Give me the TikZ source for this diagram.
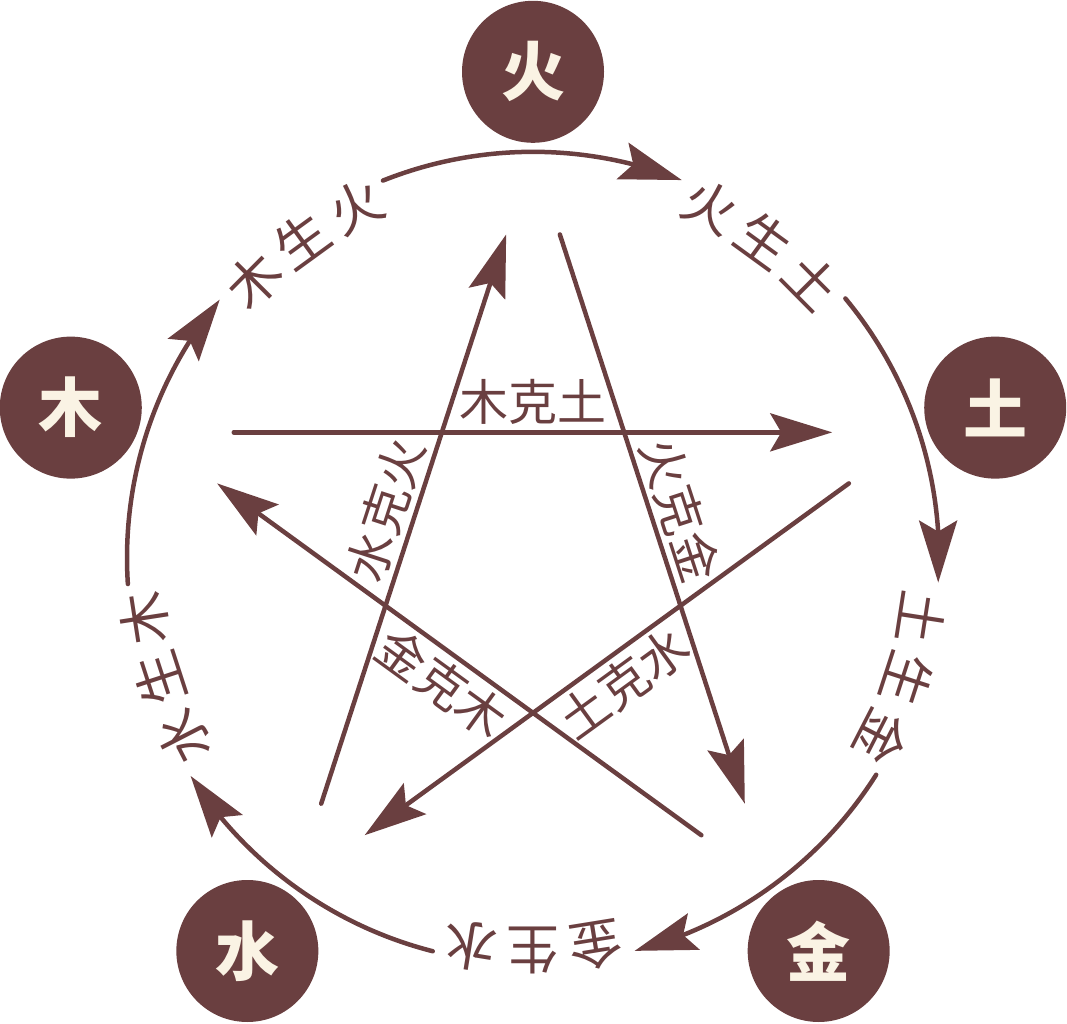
\documentclass[tikz,border=0pt]{standalone}
\usepackage{fontspec}
\newfontfamily\cjk{Noto Sans CJK SC}
\usetikzlibrary{arrows.meta,bending,calc}
\definecolor{wx}{RGB}{106,63,64}
\definecolor{cream}{RGB}{250,243,228}
\begin{document}
\begin{tikzpicture}[x=1pt,y=1pt,
  elem/.style={circle,fill=wx,minimum size=142pt,inner sep=0pt,text=cream,font=\cjk\bfseries\fontsize{64}{64}\selectfont},
  lbl/.style={text=wx,inner sep=0pt,font=\cjk\fontsize{49}{49}\selectfont},
  arclbl/.style={text=wx,inner sep=0pt,font=\cjk\fontsize{53}{53}\selectfont},
  conn/.style={draw=wx,line width=4.5pt,line cap=round},
  tipped/.style={-{Stealth[length=62pt,width=38pt,inset=11pt]}}
]
\useasboundingbox (0,0) rectangle (1067,-1023);
\coordinate (O) at (533,-557.8);
% pentagram vertices
\foreach \n/\a in {mu/162,huo/90,tu/18,jin/-54,shui/-126}{
  \coordinate (v\n) at ($(O)+(\a:406)$);
}
% element circles
\foreach \n/\a/\t in {mu/162/木,huo/90/火,tu/18/土,jin/-54/金,shui/-126/水}{
  \node[elem] (\n) at ($(O)+(\a:486)$) {\t};
}
% generating cycle arcs
\foreach \a in {162,90,18,-54,-126}{
  \pgfmathsetmacro\sa{\a+21.7}
  \pgfmathsetmacro\ea{\a-21.5}
  \coordinate (s\a) at ($(O)+(\sa:406)$);
  \draw[conn,tipped] (s\a) arc[start angle=\sa, end angle=\ea, radius=406];
}
% arc labels
\foreach \n/\ang/\t in {a1/135.2/木,a2/126/生,a3/116.8/火,b1/63.2/火,b2/54/生,b3/44.8/土,c1/-8.8/土,c2/-18/生,c3/-27.2/金,d1/-80.8/金,d2/-90/生,d3/-99.2/水,e1/-152.8/水,e2/-162/生,e3/-171.2/木}{
  \node[arclbl,rotate=\ang-90] (\n) at ($(O)+(\ang:393)$) {\t};
}
% controlling cycle (pentagram)
\draw[conn,tipped] ($(vmu)!0.1125!(vtu)$) -- ($(vmu)!0.8875!(vtu)$);
\draw[conn,tipped] ($(vtu)!0.1125!(vshui)$) -- ($(vtu)!0.8875!(vshui)$);
\draw[conn,tipped] ($(vshui)!0.1125!(vhuo)$) -- ($(vshui)!0.8875!(vhuo)$);
\draw[conn,tipped] ($(vhuo)!0.1125!(vjin)$) -- ($(vhuo)!0.8875!(vjin)$);
\draw[conn,tipped] ($(vjin)!0.1125!(vmu)$) -- ($(vjin)!0.8875!(vmu)$);
% pentagram labels
\node[lbl] (kmt) at ($(O)+(90:156)$) {木克土};
\node[lbl,rotate=72] (ksh) at ($(O)+(162:155)$) {水克火};
\node[lbl,rotate=-72] (khj) at ($(O)+(18:155)$) {火克金};
\node[lbl,rotate=-36] (kjm) at ($(O)+(-126:155)$) {金克木};
\node[lbl,rotate=36] (kts) at ($(O)+(-54:155)$) {土克水};
\end{tikzpicture}
\end{document}
